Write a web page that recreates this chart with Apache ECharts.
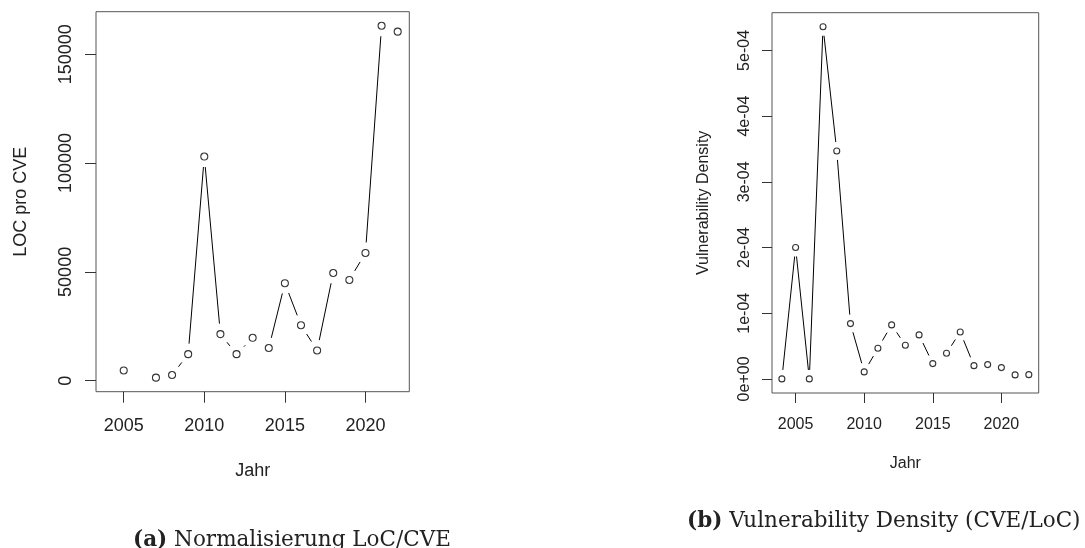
<!DOCTYPE html>
<html>
<head>
<meta charset="utf-8">
<script src="https://cdn.jsdelivr.net/npm/echarts@6/dist/echarts.min.js"></script>
<style>
  html, body { margin: 0; padding: 0; background: #fff; }
  #chart { width: 1085px; height: 548px; }
</style>
</head>
<body>
<div id="chart"></div>
<script>
// Years shared by both panels
const years = [2004, 2005, 2006, 2007, 2008, 2009, 2010, 2011, 2012, 2013,
               2014, 2015, 2016, 2017, 2018, 2019, 2020, 2021, 2022];

// (a) lines of code per CVE (null = no value for that year)
const locPerCve = [null, 4700, null, 1400, 2600, 12200, 103000, 21400, 12200, 19700,
                   15000, 44800, 25500, 13900, 49500, 46300, 58700, 163100, 160400];

// (b) CVEs per line of code
const vulnDensity = [0, 2.0e-4, 0, 5.36e-4, 3.47e-4, 0.842e-4, 0.107e-4, 0.466e-4, 0.822e-4, 0.512e-4,
                     0.67e-4, 0.233e-4, 0.39e-4, 0.715e-4, 0.202e-4, 0.218e-4, 0.172e-4, 0.061e-4, 0.065e-4];

// Tick positions and labels
const xTicks = [2005, 2010, 2015, 2020];
const yTicksA = [0, 50000, 100000, 150000];
const yLabelsA = ['0', '50000', '100000', '150000'];
const yTicksB = [0, 1e-4, 2e-4, 3e-4, 4e-4, 5e-4];
const yLabelsB = ['0e+00', '1e-04', '2e-04', '3e-04', '4e-04', '5e-04'];

const TEXT = '#222';
const SANS = 'Liberation Sans, Arial, sans-serif';
const SERIF = 'DejaVu Serif, serif';

// R-style range: data extent padded by 4% on each side
function padded(vals) {
  const v = vals.filter(x => x !== null);
  const lo = Math.min(...v), hi = Math.max(...v), r = hi - lo;
  return [lo - 0.04 * r, hi + 0.04 * r];
}
const xr = padded(years);
const yrA = padded(locPerCve);
const yrB = padded(vulnDensity);

// Consecutive point pairs for the connecting segments
function pairs(ys) {
  const out = [];
  for (let i = 0; i < years.length - 1; i++) {
    if (ys[i] === null || ys[i + 1] === null) continue;
    out.push([years[i], ys[i], years[i + 1], ys[i + 1]]);
  }
  return out;
}
function points(ys) {
  const out = [];
  years.forEach((y, i) => { if (ys[i] !== null) out.push([y, ys[i]]); });
  return out;
}

// Segment shortened at both ends so it stops short of the circles (type "b")
function segmentRenderer(gap) {
  return function (params, api) {
    const p1 = api.coord([api.value(0), api.value(1)]);
    const p2 = api.coord([api.value(2), api.value(3)]);
    const dx = p2[0] - p1[0], dy = p2[1] - p1[1];
    const d = Math.hypot(dx, dy);
    if (d <= 2 * gap) return null;
    const ux = dx / d, uy = dy / d;
    return {
      type: 'line',
      shape: { x1: p1[0] + ux * gap, y1: p1[1] + uy * gap,
               x2: p2[0] - ux * gap, y2: p2[1] - uy * gap },
      style: { stroke: '#000', lineWidth: 1 }
    };
  };
}

function labelFrom(ticks, labels) {
  return v => {
    let best = 0;
    ticks.forEach((t, i) => { if (Math.abs(t - v) < Math.abs(ticks[best] - v)) best = i; });
    return labels[best];
  };
}

function xAxis(gridIndex, fs, tickLen, margin, nameGap) {
  return {
    type: 'value', gridIndex, min: xr[0], max: xr[1],
    name: 'Jahr', nameLocation: 'middle', nameGap,
    nameTextStyle: { color: TEXT, fontSize: fs, fontFamily: SANS },
    axisLine: { show: false, onZero: false },
    axisTick: { show: true, inside: false, length: tickLen, customValues: xTicks,
                lineStyle: { color: '#333', width: 1 } },
    axisLabel: { show: true, customValues: xTicks, margin, color: TEXT, fontSize: fs, fontFamily: SANS,
                 formatter: v => String(v) },
    splitLine: { show: false }
  };
}

function yAxis(gridIndex, range, ticks, labels, name, fs, tickLen, margin, nameGap) {
  return {
    type: 'value', gridIndex, min: range[0], max: range[1],
    name, nameLocation: 'middle', nameGap,
    nameTextStyle: { color: TEXT, fontSize: fs, fontFamily: SANS },
    axisLine: { show: false, onZero: false },
    axisTick: { show: true, inside: false, length: tickLen, customValues: ticks,
                lineStyle: { color: '#333', width: 1 } },
    axisLabel: { show: true, customValues: ticks, rotate: 90, margin, color: TEXT, fontSize: fs,
                 fontFamily: SANS, formatter: labelFrom(ticks, labels) },
    splitLine: { show: false }
  };
}

function caption(tag, text, left, top) {
  return {
    text: '{b|' + tag + '} ' + text, left, top,
    textStyle: {
      rich: { b: { fontFamily: SERIF, fontWeight: 'bold', fontSize: 21.5, color: TEXT } },
      fontFamily: SERIF, fontSize: 21.5, fontWeight: 'normal', color: TEXT
    }
  };
}

const chart = echarts.init(document.getElementById('chart'), null, { renderer: 'canvas' });
chart.setOption({
  animation: false,
  backgroundColor: '#fff',
  title: [
    caption('(a)', 'Normalisierung LoC/CVE', 128, 524),
    caption('(b)', 'Vulnerability Density (CVE/LoC)', 682, 505)
  ],
  grid: [
    { left: 96, top: 11.7, width: 313.3, height: 380, show: true, borderColor: '#555', borderWidth: 1,
      backgroundColor: 'transparent' },
    { left: 772, top: 12.7, width: 266.7, height: 380.3, show: true, borderColor: '#555', borderWidth: 1,
      backgroundColor: 'transparent' }
  ],
  xAxis: [
    xAxis(0, 18, 11, 25, 70),
    xAxis(1, 16, 10, 23.5, 63)
  ],
  yAxis: [
    yAxis(0, yrA, yTicksA, yLabelsA, 'LOC pro CVE', 18, 11, 21, 66),
    yAxis(1, yrB, yTicksB, yLabelsB, 'Vulnerability Density', 16, 10, 19, 60)
  ],
  series: [
    { type: 'custom', xAxisIndex: 0, yAxisIndex: 0, data: pairs(locPerCve),
      encode: { x: [0, 2], y: [1, 3] }, renderItem: segmentRenderer(10.5), silent: true },
    { type: 'scatter', xAxisIndex: 0, yAxisIndex: 0, data: points(locPerCve),
      symbol: 'circle', symbolSize: 7, silent: true,
      itemStyle: { color: 'rgba(0,0,0,0)', borderColor: '#000', borderWidth: 1.1 } },
    { type: 'custom', xAxisIndex: 1, yAxisIndex: 1, data: pairs(vulnDensity),
      encode: { x: [0, 2], y: [1, 3] }, renderItem: segmentRenderer(9), silent: true },
    { type: 'scatter', xAxisIndex: 1, yAxisIndex: 1, data: points(vulnDensity),
      symbol: 'circle', symbolSize: 6, silent: true,
      itemStyle: { color: 'rgba(0,0,0,0)', borderColor: '#000', borderWidth: 1.1 } }
  ]
});
</script>
</body>
</html>
